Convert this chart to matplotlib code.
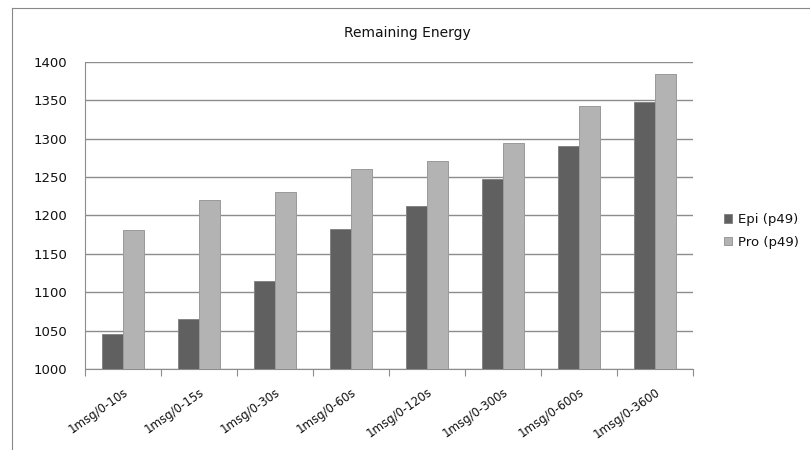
import matplotlib.pyplot as plt
import numpy as np
from matplotlib.lines import Line2D

# 各场景下剩余能量
categories = ['1msg/0-10s', '1msg/0-15s', '1msg/0-30s', '1msg/0-60s',
              '1msg/0-120s', '1msg/0-300s', '1msg/0-600s', '1msg/0-3600']
epi = [1045, 1065, 1115, 1183, 1213, 1247, 1290, 1348]
pro = [1181, 1220, 1230, 1261, 1271, 1295, 1343, 1385]
series_names = ['Epi (p49)', 'Pro (p49)']
yticks = [1000, 1050, 1100, 1150, 1200, 1250, 1300, 1350, 1400]

plt.rcParams['font.family'] = ['DejaVu Sans']
txt = '#111111'

fig = plt.figure(figsize=(8.1, 4.5), dpi=100)
ax = fig.add_axes([85 / 810, 1 - 369 / 450, 608 / 810, 307 / 450])

x = np.arange(len(categories))
w = 0.28
ax.bar(x - w / 2, epi, w, color='#606060', edgecolor='#858585', linewidth=0.7,
       label=series_names[0], zorder=3)
ax.bar(x + w / 2, pro, w, color='#b3b3b3', edgecolor='#9a9a9a', linewidth=0.7,
       label=series_names[1], zorder=3)

ax.set_xlim(-0.5, len(categories) - 0.5)
ax.set_ylim(1000, 1400)
ax.set_yticks(yticks)
ax.yaxis.grid(True, color='#8c8c8c', linewidth=1.0, zorder=0)
ax.tick_params(axis='y', length=0, labelsize=9.5, pad=13, labelcolor=txt)

# 类别刻度画在分组边界上
ax.set_xticks(np.arange(len(categories) + 1) - 0.5, minor=False)
ax.set_xticklabels([])
ax.set_xticks(x, minor=True)
ax.set_xticklabels(categories, minor=True, rotation=35, ha='right',
                   rotation_mode='anchor', fontsize=8.5, color=txt)
ax.tick_params(axis='x', which='major', length=5, color='#8c8c8c', direction='out')
ax.tick_params(axis='x', which='minor', length=0, pad=12)
for lab in ax.get_xticklabels(minor=True):
    lab.set_x(lab.get_position()[0])

for side in ['top', 'right']:
    ax.spines[side].set_visible(False)
ax.spines['left'].set_color('#8c8c8c')
ax.spines['bottom'].set_color('#8c8c8c')

fig.text(407 / 810, 1 - 33 / 450, 'Remaining Energy', ha='center', va='center',
         fontsize=10, color=txt)

ax.legend(loc='center left', bbox_to_anchor=(712 / 810, 1 - 231 / 450),
          bbox_transform=fig.transFigure, frameon=False, fontsize=9.5,
          handlelength=0.6, handleheight=0.6, handletextpad=0.5, labelspacing=0.75,
          labelcolor=txt)

# 图表区边框
fig.add_artist(Line2D([12 / 810, 1], [1 - 8 / 450, 1 - 8 / 450],
                      transform=fig.transFigure, color='#888888', linewidth=0.8))
fig.add_artist(Line2D([12 / 810, 12 / 810], [0, 1 - 8 / 450],
                      transform=fig.transFigure, color='#888888', linewidth=0.8))

fig.savefig('out.png', dpi=100)
